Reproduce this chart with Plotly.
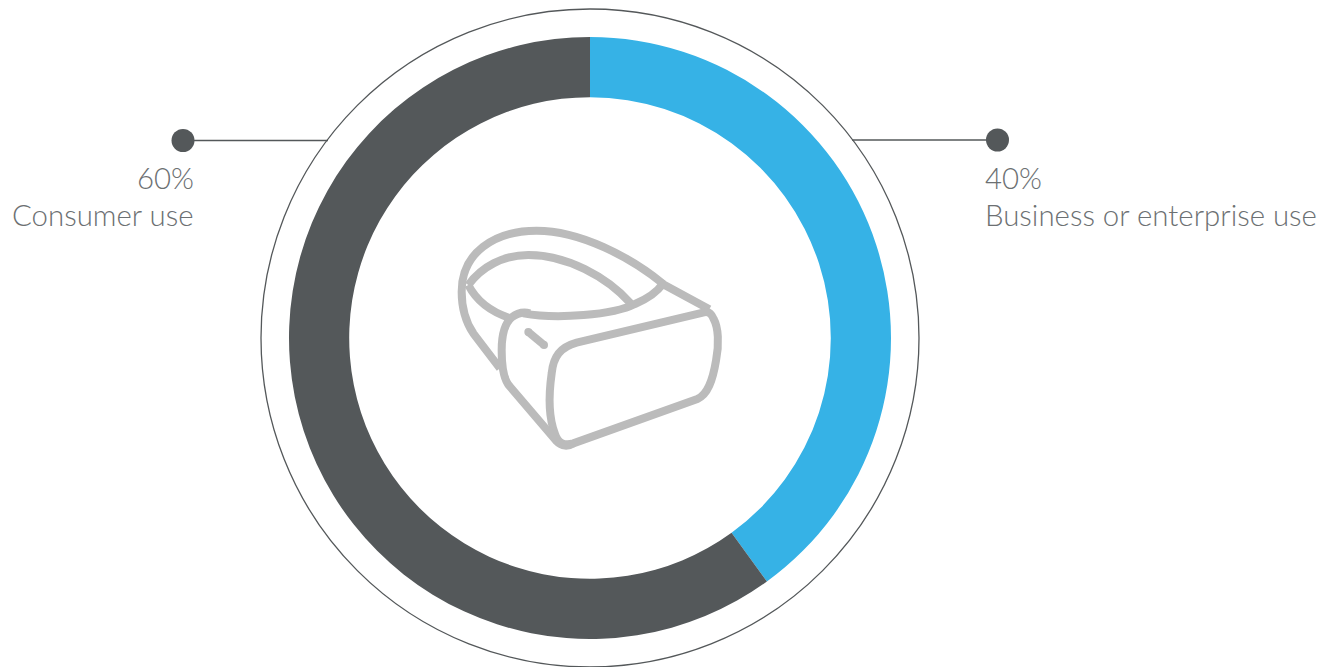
import re
import plotly.graph_objects as go

# Share of use by segment
segments = ["Business or enterprise use", "Consumer use"]
shares = [40, 60]
segment_colors = ["#36b2e6", "#54585a"]

WIDTH, HEIGHT = 1325, 667
CENTER = (590, 338)
OUTER_R, RING_R = 329, 301
TEXT_COLOR = "#6c7072"
FONT = "Lato Light, Lato, sans-serif"
ICON_COLOR = "#bbbbbb"
ICON_STROKE = 8

# Headset pictogram, outlined in its own 3x grid anchored at (440, 210)
HEADSET = [
    "M 670 222 C 570 140 420 62 290 62 C 160 62 65 130 65 245 C 65 300 80 340 100 370 L 180 475",
    "M 572 280 C 500 200 380 135 265 135 C 190 135 125 170 85 225",
    "M 85 225 C 108 270 150 305 212 325",
    "M 250 310 C 350 328 520 315 585 282 C 620 267 650 248 668 222 L 808 298",
    "M 792 307 L 410 398 C 360 412 340 440 335 490 C 325 560 325 620 345 672 "
    "C 355 702 375 707 400 700 L 772 567 C 803 554 818 512 828 452 "
    "C 838 402 835 352 821 327 C 813 307 802 304 792 307 Z",
    "M 400 700 C 385 710 365 710 350 694 L 210 530 C 190 510 185 470 185 420 "
    "C 185 370 195 340 215 322 C 230 310 250 305 270 310",
    "M 265 366 L 312 405",
]
# Rounded ends of the small button on the headset
BUTTON_CAPS = [(265, 366), (312, 405)]


def to_page(path):
    """Rescale a pictogram path from its 3x grid to page units."""
    tokens = path.split()
    out, is_x = [], True
    for tok in tokens:
        if re.fullmatch(r"[A-Za-z]", tok):
            out.append(tok)
            is_x = True
        else:
            offset = 440 if is_x else 210
            out.append(f"{float(tok) / 3 + offset:.2f}")
            is_x = not is_x
    return " ".join(out)


fig = go.Figure()

# Invisible-axis overlay: leader lines and their end dots
fig.add_trace(go.Scatter(x=[183, 328], y=[140.5, 140.5], mode="lines",
                         line=dict(color="#54585a", width=1.4), hoverinfo="skip"))
fig.add_trace(go.Scatter(x=[852, 997], y=[140, 140], mode="lines",
                         line=dict(color="#54585a", width=1.4), hoverinfo="skip"))
fig.add_trace(go.Scatter(x=[183, 997.5], y=[140.5, 140], mode="markers",
                         marker=dict(color="#54585a", size=23), hoverinfo="skip"))

# Donut ring
fig.add_trace(go.Pie(
    labels=segments,
    values=shares,
    marker=dict(colors=segment_colors, line=dict(width=0)),
    hole=0.8,
    sort=False,
    direction="clockwise",
    rotation=0,
    textinfo="none",
    hoverinfo="label+percent",
    domain=dict(
        x=[(CENTER[0] - RING_R) / WIDTH, (CENTER[0] + RING_R) / WIDTH],
        y=[1 - (CENTER[1] + RING_R) / HEIGHT, 1 - (CENTER[1] - RING_R) / HEIGHT],
    ),
))

shapes = [dict(type="circle", xref="x", yref="y",
               x0=CENTER[0] - OUTER_R, x1=CENTER[0] + OUTER_R,
               y0=CENTER[1] - OUTER_R, y1=CENTER[1] + OUTER_R,
               line=dict(color="#54585a", width=1.3), layer="below")]
for p in HEADSET:
    shapes.append(dict(type="path", xref="x", yref="y", path=to_page(p),
                       line=dict(color=ICON_COLOR, width=ICON_STROKE), layer="above"))
for cx, cy in BUTTON_CAPS:
    px, py = cx / 3 + 440, cy / 3 + 210
    r = ICON_STROKE / 2
    shapes.append(dict(type="circle", xref="x", yref="y",
                       x0=px - r, x1=px + r, y0=py - r, y1=py + r,
                       fillcolor=ICON_COLOR, line=dict(width=0), layer="above"))


def label(x, y, text, anchor):
    return dict(x=x, y=y, xref="x", yref="y", text=text, showarrow=False,
                xanchor=anchor, yanchor="middle", align=anchor,
                font=dict(family=FONT, size=29.4, color=TEXT_COLOR))


annotations = [
    label(196, 177, f"{shares[1]}%", "right"),
    label(196, 214, segments[1], "right"),
    label(983, 177, f"{shares[0]}%", "left"),
    label(983, 214, segments[0], "left"),
]

fig.update_layout(
    width=WIDTH,
    height=HEIGHT,
    margin=dict(l=0, r=0, t=0, b=0),
    paper_bgcolor="white",
    plot_bgcolor="white",
    showlegend=False,
    xaxis=dict(range=[0, WIDTH], visible=False, domain=[0, 1]),
    yaxis=dict(range=[HEIGHT, 0], visible=False, domain=[0, 1]),
    shapes=shapes,
    annotations=annotations,
)

fig.write_html("out.html", config=dict(displayModeBar=False))
